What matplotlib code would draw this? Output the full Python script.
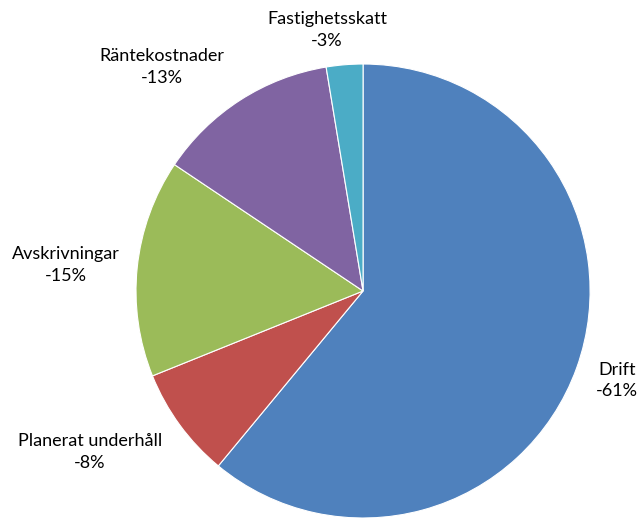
import matplotlib.pyplot as plt

# slice data, in drawing order (clockwise from the top)
categories = ["Drift", "Planerat underhåll", "Avskrivningar", "Räntekostnader", "Fastighetsskatt"]
shares = [61.0, 7.9, 15.5, 13.0, 2.6]
labels = ["-61%", "-8%", "-15%", "-13%", "-3%"]
colors = ["#4F81BD", "#C0504D", "#9BBB59", "#8064A2", "#4BACC6"]

# label positions in pie units (radius = 1)
label_pos = [(1.119, -0.396), (-1.203, -0.709), (-1.31, 0.115), (-0.885, 0.987), (-0.159, 1.150)]

plt.rcParams['font.family'] = ['Lato', 'DejaVu Sans']

fig = plt.figure(figsize=(6.38, 5.18), dpi=100)
ax = fig.add_axes([0, 0, 1, 1])

ax.pie(shares, colors=colors, startangle=90, counterclock=False, radius=1,
       wedgeprops=dict(edgecolor="white", linewidth=0.8))

for cat, lab, (x, y) in zip(categories, labels, label_pos):
    ax.text(x, y, f"{cat}\n{lab}", ha="center", va="center", fontsize=13,
            color="#000000", linespacing=1.4)

ax.set_xlim(-1.599, 1.211)
ax.set_ylim(-1.0, 1.282)
ax.set_aspect("auto")
ax.axis("off")

plt.savefig("out.png", dpi=100)
